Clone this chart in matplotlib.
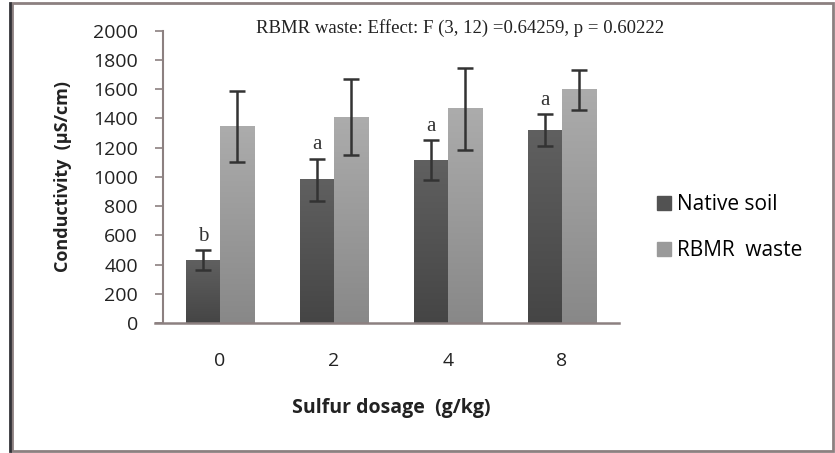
import numpy as np
import matplotlib.pyplot as plt
from matplotlib.patches import Rectangle
from matplotlib.colors import LinearSegmentedColormap

# Conductivity by sulfur dosage
dosages = ['0', '2', '4', '8']
native_mean = [430, 980, 1115, 1320]
native_err = [70, 145, 135, 110]
rbmr_mean = [1345, 1410, 1465, 1595]
rbmr_err = [243, 263, 278, 135]
native_letters = ['b', 'a', 'a', 'a']

fig = plt.figure(figsize=(8.35, 4.53), dpi=100)
ax = fig.add_axes([0.195, 0.287, 0.546, 0.645])

dark_cmap = LinearSegmentedColormap.from_list('dark', ['#454545', '#606060'])
light_cmap = LinearSegmentedColormap.from_list('light', ['#888888', '#acacac'])
grad = np.linspace(0, 1, 256).reshape(-1, 1)

x = np.arange(len(dosages))
w = 0.3


def gradient_bars(xs, heights, cmap):
    for xi, h in zip(xs, heights):
        ax.imshow(grad, cmap=cmap, origin='lower', aspect='auto',
                  extent=(xi - w / 2, xi + w / 2, 0, h), zorder=2)


gradient_bars(x - w / 2, native_mean, dark_cmap)
gradient_bars(x + w / 2, rbmr_mean, light_cmap)

ax.errorbar(x - w / 2, native_mean, yerr=native_err, fmt='none', ecolor='#333333',
            elinewidth=1.8, capsize=6, capthick=1.8, zorder=3)
ax.errorbar(x + w / 2, rbmr_mean, yerr=rbmr_err, fmt='none', ecolor='#333333',
            elinewidth=1.8, capsize=6, capthick=1.8, zorder=3)

for xi, m, e, lab in zip(x - w / 2, native_mean, native_err, native_letters):
    ax.annotate(lab, (xi, m + e), xytext=(0, 3), textcoords='offset points',
                ha='center', va='bottom', fontsize=15, family='Liberation Serif',
                color='#333333')

ax.set_xlim(-0.5, 3.5)
ax.set_ylim(0, 2000)
ax.set_yticks(range(0, 2001, 200))
ax.set_xticks(x)
ax.set_xticklabels(dosages)

axis_col = '#8c8080'
for s in ['top', 'right']:
    ax.spines[s].set_visible(False)
ax.spines['left'].set_color(axis_col)
ax.spines['bottom'].set_color(axis_col)
ax.spines['left'].set_linewidth(1.5)
ax.spines['bottom'].set_linewidth(1.8)
ax.spines['bottom'].set_bounds(-0.57, 3.5)

ax.tick_params(axis='y', length=6, width=1.2, color=axis_col, pad=12,
               labelsize=14, labelcolor='#222222')
ax.tick_params(axis='x', length=0, pad=21, labelsize=14, labelcolor='#222222')
for lbl in ax.get_xticklabels() + ax.get_yticklabels():
    lbl.set_family('Open Sans')

ax.set_ylabel('Conductivity  (µS/cm)', fontsize=13, fontweight='bold',
              family='Open Sans', color='#222222', labelpad=15)
ax.set_xlabel('Sulfur dosage  (g/kg)', fontsize=14, fontweight='bold',
              family='Open Sans', color='#222222', labelpad=20)

fig.text(0.551, 0.938, 'RBMR waste: Effect: F (3, 12) =0.64259, p = 0.60222',
         ha='center', va='center', fontsize=13.5, family='Liberation Serif',
         color='#222222')

handles = [Rectangle((0, 0), 1, 1, color='#525252'),
           Rectangle((0, 0), 1, 1, color='#9a9a9a')]
fig.legend(handles, ['Native soil', 'RBMR  waste'], loc='center left',
           bbox_to_anchor=(0.787, 0.497), frameon=False, handlelength=0.65,
           handleheight=0.65, handletextpad=0.3, labelspacing=1.2,
           borderpad=0, borderaxespad=0,
           prop={'family': 'Open Sans', 'size': 15})

# outer frame
fig.patches.append(Rectangle((12 / 835, 2 / 453), 821 / 835, 448 / 453,
                             transform=fig.transFigure, fill=False,
                             edgecolor='#8c8080', linewidth=2))
fig.lines.append(plt.Line2D([10 / 835, 10 / 835], [2 / 453, 450 / 453],
                            transform=fig.transFigure, color='#333338',
                            linewidth=2))

fig.savefig('out.png', dpi=100)
